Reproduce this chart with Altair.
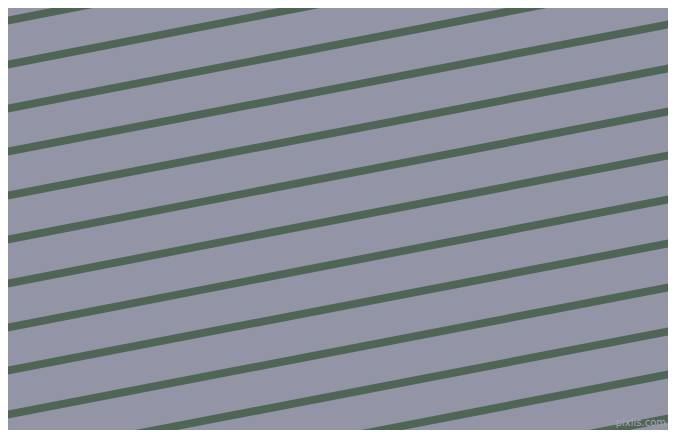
import altair as alt
import pandas as pd

# y (in pixels from top) of each stripe at the left edge (x=0) and right edge (x=676)
left_y = [-22, 22, 66, 110, 153, 197, 241, 285, 329, 372, 416, 460, 504, 548]
right_y = [-153, -109, -65, -21, 23, 67, 110, 154, 198, 242, 286, 330, 373, 417]
x_left = [0] * len(left_y)
x_right = [676] * len(right_y)

df = pd.DataFrame({"x": x_left, "x2": x_right, "y": left_y, "y2": right_y})

BG = "#9395A7"
STRIPE = "#4F6555"

xs = alt.Scale(domain=[8, 668], nice=False, zero=False)
ys = alt.Scale(domain=[8, 430], nice=False, zero=False, reverse=True)

stripes = alt.Chart(df).mark_rule(color=STRIPE, strokeWidth=7.8, clip=True).encode(
    x=alt.X("x:Q", scale=xs, axis=None),
    x2="x2",
    y=alt.Y("y:Q", scale=ys, axis=None),
    y2="y2",
)

wm = pd.DataFrame({"x": [666], "y": [428], "t": ["pixlis.com"]})
mark = alt.Chart(wm).mark_text(
    color="#A4A6B6", fontSize=10, font="DejaVu Sans", align="right", baseline="bottom"
).encode(
    x=alt.X("x:Q", scale=xs, axis=None),
    y=alt.Y("y:Q", scale=ys, axis=None),
    text="t:N",
)

chart = (stripes + mark).properties(
    width=660, height=422, padding=0, background=BG,
    autosize=alt.AutoSizeParams(type="none"),
).configure_view(stroke=None, fill=BG)

chart.save("out.html", embed_options={"renderer": "svg", "actions": False})
